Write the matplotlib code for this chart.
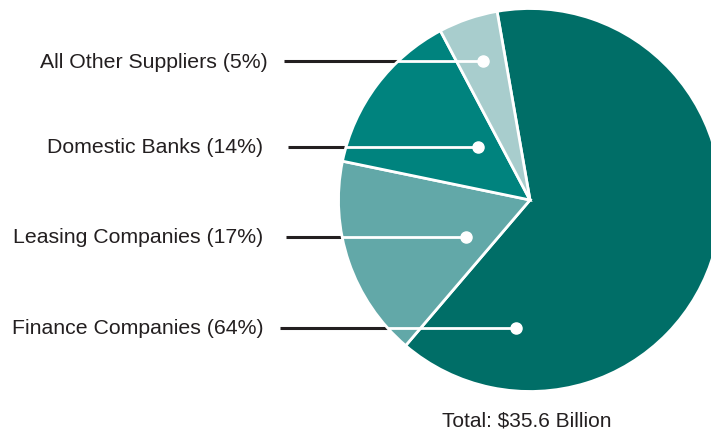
import numpy as np
import matplotlib.pyplot as plt
from matplotlib.patches import Circle

plt.rcParams['font.family'] = ['Liberation Sans', 'DejaVu Sans']

# data
labels = ["Finance Companies", "Leasing Companies", "Domestic Banks", "All Other Suppliers"]
shares = [64, 17, 14, 5]
colors = ["#006e67", "#62a8a8", "#00837e", "#a8cdcd"]
total_text = "Total: $35.6 Billion"

# layout (pixel coords)
cx, cy, R = 530, 201, 191.5
dots = [(516, 329), (466, 238), (478, 148), (483, 62)]
line_start = [280, 286, 288, 284]
text_right = [264, 263, 263, 268]

fig = plt.figure(figsize=(7.11, 4.31), dpi=100)
ax = fig.add_axes([0, 0, 1, 1])

wedges, _ = ax.pie(shares, colors=colors, startangle=-99.9, counterclock=True,
                   center=(cx, cy), radius=R, frame=True,
                   wedgeprops=dict(edgecolor='white', linewidth=2))
for w in wedges:
    w.set_zorder(2)

ax.set_xlim(0, 711)
ax.set_ylim(431, 0)
ax.set_aspect('equal')
ax.axis('off')

clip = Circle((cx, cy), R, transform=ax.transData)

for lab, s, (dx, dy), x0, xt in zip(labels, shares, dots, line_start, text_right):
    ax.plot([x0, dx], [dy, dy], color='#231f20', lw=2.2, zorder=1, solid_capstyle='butt')
    wl, = ax.plot([x0, dx], [dy, dy], color='white', lw=2, zorder=3, solid_capstyle='butt')
    wl.set_clip_path(clip)
    ax.plot(dx, dy, 'o', color='white', ms=8, zorder=4)
    ax.text(xt, dy, f"{lab} ({s}%)", ha='right', va='center', fontsize=15.3, color='#231f20')

ax.text(527, 421, total_text, ha='center', va='center', fontsize=15, color='#231f20')

fig.savefig('out.png', dpi=100)
